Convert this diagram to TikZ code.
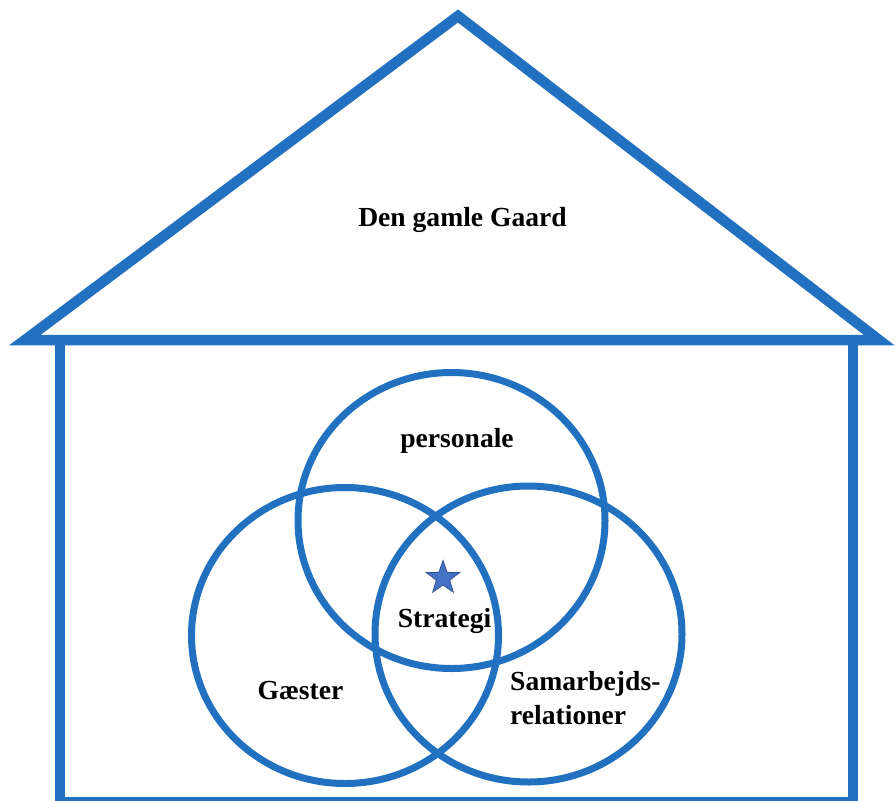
\documentclass[tikz,border=0pt]{standalone}
\usepackage{fontspec}
\setmainfont{Liberation Serif}
\usetikzlibrary{shapes.geometric}
\definecolor{lineblue}{RGB}{34,113,192}
\definecolor{starfill}{RGB}{68,114,196}
\definecolor{starline}{RGB}{47,82,143}
\begin{document}
\begin{tikzpicture}[x=1pt,y=-1pt,
  wall/.style={draw=lineblue,line width=10.5pt,line join=miter,miter limit=10},
  venn/.style={draw=lineblue,line width=7pt,ellipse,inner sep=0pt,minimum width=307pt,minimum height=296pt},
  lbl/.style={font=\fontsize{27.6}{34}\selectfont\bfseries,inner sep=0pt,text=black}]
\useasboundingbox (0,0) rectangle (896,800);
% house
\coordinate (rl) at (25,340);
\coordinate (ra) at (458,16);
\coordinate (rr) at (879,340);
\draw[wall] (rl) -- (ra) -- (rr) -- cycle;
\coordinate (bl) at (60,341);
\coordinate (br) at (853,341);
\coordinate (bbr) at (853,802);
\coordinate (bbl) at (60,802);
\draw[wall] (bl) -- (bbl) -- (bbr) -- (br);
% venn
\node[venn] (pers) at (451.5,520.5) {};
\node[venn] (gaest) at (345,635.5) {};
\node[venn] (samar) at (528.5,634) {};
% star
\node[star,star points=5,star point ratio=2.5,minimum size=35pt,inner sep=0pt,fill=starfill,draw=starline,line width=0.8pt] (star) at (443,578) {};
% labels
\node[lbl,anchor=base] (title) at (462.5,226) {Den gamle Gaard};
\node[lbl,anchor=base] (tpers) at (457,447) {personale};
\node[lbl,anchor=base] (tstrat) at (444.5,627) {Strategi};
\node[lbl,anchor=base] (tgaest) at (300.5,699) {Gæster};
\node[lbl,anchor=north west,align=left] (tsamar) at (510,671.5) {Samarbejds-\\relationer};
\end{tikzpicture}
\end{document}
